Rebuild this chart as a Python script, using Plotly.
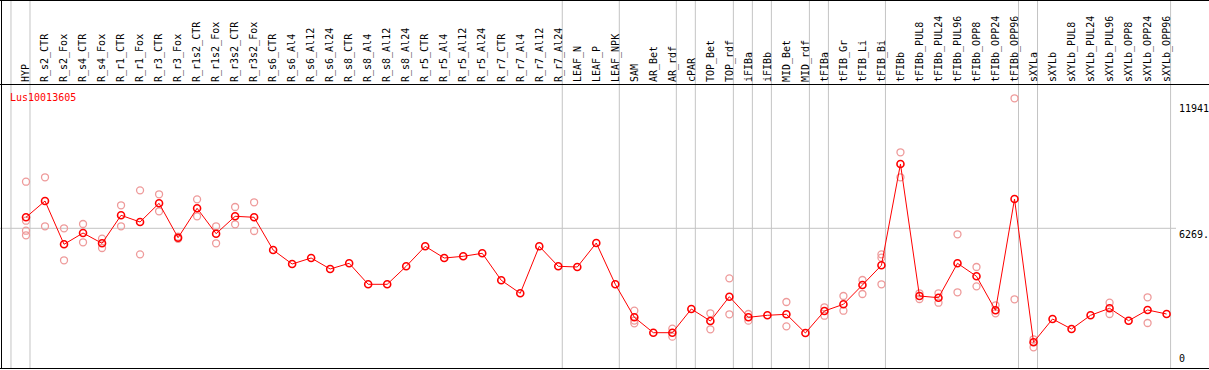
import plotly.graph_objects as go

gene = "Lus10013605"

samples = ["HYP", "R_s2_CTR", "R_s2_Fox", "R_s4_CTR", "R_s4_Fox", "R_r1_CTR", "R_r1_Fox",
           "R_r3_CTR", "R_r3_Fox", "R_r1s2_CTR", "R_r1s2_Fox", "R_r3s2_CTR", "R_r3s2_Fox",
           "R_s6_CTR", "R_s6_Al4", "R_s6_Al12", "R_s6_Al24", "R_s8_CTR", "R_s8_Al4",
           "R_s8_Al12", "R_s8_Al24", "R_r5_CTR", "R_r5_Al4", "R_r5_Al12", "R_r5_Al24",
           "R_r7_CTR", "R_r7_Al4", "R_r7_Al12", "R_r7_Al24", "LEAF_N", "LEAF_P", "LEAF_NPK",
           "SAM", "AR_Bet", "AR_rdf", "cPAR", "TOP_Bet", "TOP_rdf", "iFIBa", "iFIBb",
           "MID_Bet", "MID_rdf", "tFIBa", "tFIB_Gr", "tFIB_Li", "tFIB_Bi", "tFIBb",
           "tFIBb_PUL8", "tFIBb_PUL24", "tFIBb_PUL96", "tFIBb_OPP8", "tFIBb_OPP24",
           "tFIBb_OPP96", "sXYLa", "sXYLb", "sXYLb_PUL8", "sXYLb_PUL24", "sXYLb_PUL96",
           "sXYLb_OPP8", "sXYLb_OPP24", "sXYLb_OPP96"]

mean_values = [6763, 7494, 5551, 6058, 5596, 6852, 6552, 7391, 5847, 7167, 6027, 6807, 6763,
               5295, 4667, 4936, 4443, 4698, 3756, 3756, 4564, 5461, 4936, 5013, 5147,
               3936, 3352, 5461, 4564, 4532, 5609, 3756,
               2275, 1584, 1584, 2648, 2109, 3200, 2275, 2365, 2410, 1571,
               2558, 2859, 3725, 4609, 9155, 3231, 3155, 4698, 4115, 2589, 7584,
               1153, 2199, 1750, 2365, 2679, 2123, 2603, 2423]

replicates = [[8360, 6610, 6161, 5955], [8558, 6359], [6269, 4833], [6462, 5641], [5802, 5385],
              [7301, 6359], [7974, 5102], [7795, 7032], [5892, 5800], [7570, 6807],
              [6359, 5596], [7225, 6449], [7436, 6148],
              [], [], [], [], [], [], [], [], [], [], [], [], [], [], [], [], [], [], [],
              [2571, 2130, 2006], [], [1764, 1405], [], [2455, 1737], [4025, 2410],
              [2423, 2123], [], [2962, 1871], [],
              [2724, 2347], [3231, 2571], [3949, 3321], [5102, 4950, 3756], [9680, 8558],
              [3352, 3096], [3352, 2930], [6000, 3397], [4532, 3666], [2814, 2455],
              [12103, 3083],
              [1288, 929], [], [], [], [2930, 2423], [], [3173, 2019], []]

group_ends = ["", "HYP", "R_r7_Al24", "LEAF_NPK", "AR_rdf", "cPAR", "TOP_rdf", "iFIBa", "iFIBb",
              "MID_rdf", "tFIBa", "tFIB_Bi", "tFIBb_OPP96", "sXYLa", "sXYLb_OPP96"]

axis_ticks = [0, 6269, 11941]
axis_ticktext = ["0", "6269.", "11941"]

W, H = 1209, 370
TOP, BOT = 85, 2
plot_h = H - TOP - BOT
px_per_val = 139.7 / 6269.0
x0_px, step_px = 26.0, 19.01
xr0 = -x0_px / step_px
xr1 = xr0 + W / step_px
yr1 = plot_h / px_per_val

idx = list(range(len(samples)))

rx, ry = [], []
for i, reps in enumerate(replicates):
    for v in reps:
        rx.append(i)
        ry.append(v)

fig = go.Figure()
fig.add_trace(go.Scatter(x=rx, y=ry, mode="markers",
                         marker=dict(symbol="circle-open", size=7, color="#ee9a9a",
                                     line=dict(width=1.3, color="#ee9a9a")),
                         hoverinfo="skip", showlegend=False))
fig.add_trace(go.Scatter(x=idx, y=mean_values, mode="lines+markers",
                         line=dict(color="#ff0000", width=1),
                         marker=dict(symbol="circle-open", size=7, color="#ff0000",
                                     line=dict(width=1.6, color="#ff0000")),
                         showlegend=False))

def py(pix):
    # pixel row -> paper y
    return (H - BOT - pix) / plot_h

shapes = []
grey = "#c4c4c4"
for g in group_ends:
    xi = (samples.index(g) if g else -1) + 0.21
    shapes.append(dict(type="line", xref="x", yref="paper", x0=xi, x1=xi, y0=0, y1=py(0),
                       line=dict(color=grey, width=1), layer="below"))
shapes.append(dict(type="line", xref="paper", yref="y", x0=0, x1=1176 / W, y0=axis_ticks[1],
                   y1=axis_ticks[1], line=dict(color=grey, width=1), layer="below"))
# borders
shapes.append(dict(type="line", xref="paper", yref="paper", x0=0, x1=1, y0=py(0.5), y1=py(0.5),
                   line=dict(color="black", width=1)))
shapes.append(dict(type="line", xref="paper", yref="paper", x0=1.5 / W, x1=1.5 / W, y0=0,
                   y1=py(0), line=dict(color="black", width=1)))
shapes.append(dict(type="line", xref="paper", yref="paper", x0=0, x1=1, y0=py(368.5),
                   y1=py(368.5), line=dict(color="black", width=1)))

annotations = [dict(text=gene, xref="paper", yref="paper", x=8 / W, y=py(97.5), xanchor="left",
                    yanchor="middle", showarrow=False,
                    font=dict(family="DejaVu Sans Mono", size=10, color="#ff0000"))]
for v, t in zip(axis_ticks, axis_ticktext):
    if v == 0:
        annotations.append(dict(text=t, xref="paper", yref="y", x=1177 / W, y=v, yshift=2,
                                xanchor="left", yanchor="bottom", showarrow=False,
                                font=dict(family="DejaVu Sans Mono", size=10, color="black")))
    else:
        annotations.append(dict(text=t, xref="paper", yref="y", x=1177 / W, y=v, yshift=1,
                                xanchor="left", yanchor="top", showarrow=False,
                                font=dict(family="DejaVu Sans Mono", size=10, color="black")))

fig.update_layout(
    width=W, height=H, margin=dict(l=0, r=0, t=TOP, b=BOT),
    paper_bgcolor="white", plot_bgcolor="white",
    xaxis=dict(range=[xr0, xr1], side="top", tickmode="array", tickvals=idx, ticktext=samples,
               tickangle=-90, ticks="", showgrid=False, zeroline=False, showline=True,
               linecolor="black", linewidth=1,
               tickfont=dict(family="DejaVu Sans Mono", size=10, color="black")),
    yaxis=dict(range=[0, yr1], showgrid=False, zeroline=False, showticklabels=False,
               ticks=""),
    shapes=shapes, annotations=annotations,
)

fig.write_html("out.html", config={"displayModeBar": False},
               post_script="document.body.style.margin='0px';")
